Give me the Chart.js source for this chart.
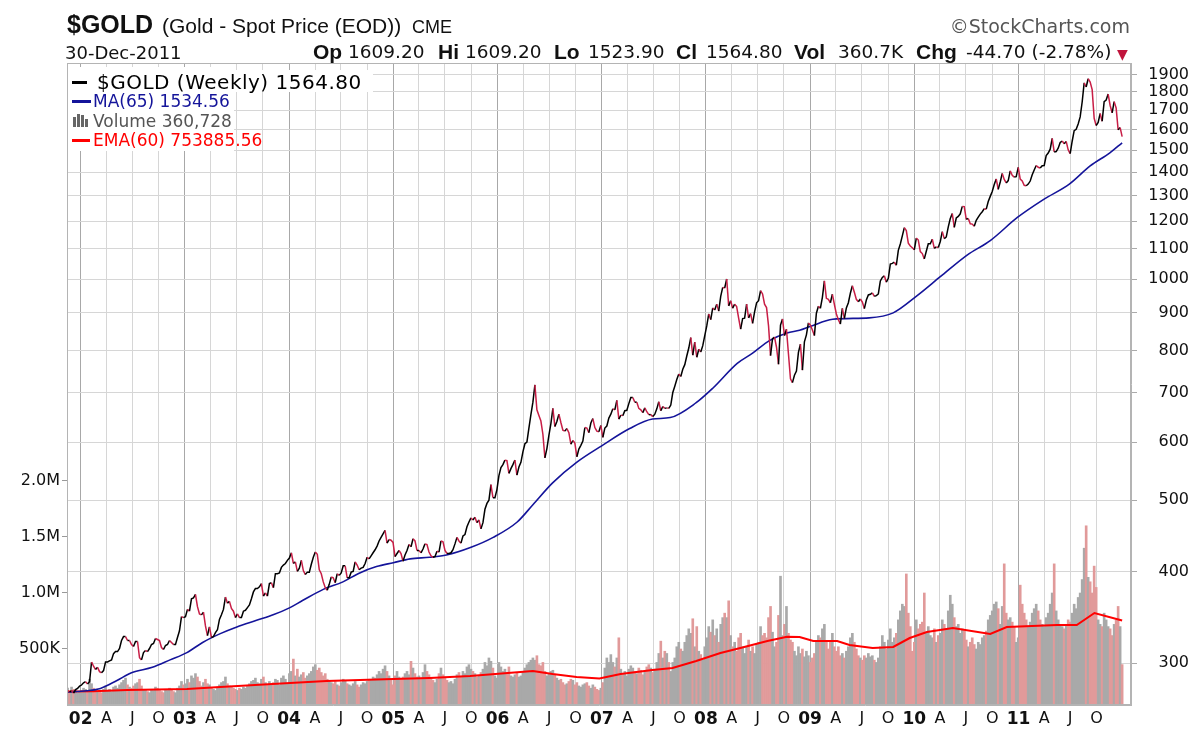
<!DOCTYPE html>
<html>
<head>
<meta charset="utf-8">
<title>$GOLD semanal</title>
<script src="https://cdn.jsdelivr.net/npm/chart.js@4.4.1/dist/chart.umd.min.js"></script>
<style>
  html, body { margin: 0; padding: 0; background: #fff; }
  #quadro { position: relative; width: 1189px; height: 731px; overflow: hidden; }
  #graficoOuro { position: absolute; left: 0; top: 0; }
  .t { position: absolute; white-space: pre; line-height: 1; color: #111; font-family: "DejaVu Sans", sans-serif; }
  .arial { font-family: "Liberation Sans", Arial, sans-serif; }
  .b { font-weight: bold; }
  .ico { position: absolute; }
</style>
</head>
<body>
<div id="quadro">
  <canvas id="graficoOuro" width="1189" height="731"></canvas>

  <!-- cabeçalho -->
  <div class="t arial b" style="left:67px;top:12px;font-size:25px">$GOLD</div>
  <div class="t arial" style="left:162px;top:15px;font-size:21px">(Gold - Spot Price (EOD))</div>
  <div class="t arial" style="left:412px;top:18px;font-size:18px">CME</div>
  <div class="t" style="right:59px;top:17px;font-size:19px;color:#555">©StockCharts.com</div>

  <div class="t" style="left:65px;top:44px;font-size:18px">30-Dec-2011</div>
  <div class="t arial b" style="left:313px;top:41px;font-size:21px">Op</div>
  <div class="t" style="left:348px;top:43px;font-size:18.5px">1609.20</div>
  <div class="t arial b" style="left:438px;top:41px;font-size:21px">Hi</div>
  <div class="t" style="left:465px;top:43px;font-size:18.5px">1609.20</div>
  <div class="t arial b" style="left:554px;top:41px;font-size:21px">Lo</div>
  <div class="t" style="left:588px;top:43px;font-size:18.5px">1523.90</div>
  <div class="t arial b" style="left:676px;top:41px;font-size:21px">Cl</div>
  <div class="t" style="left:706px;top:43px;font-size:18.5px">1564.80</div>
  <div class="t arial b" style="left:794px;top:41px;font-size:21px">Vol</div>
  <div class="t" style="left:838px;top:43px;font-size:18.5px">360.7K</div>
  <div class="t arial b" style="left:916px;top:41px;font-size:21px">Chg</div>
  <div class="t" style="left:966px;top:43px;font-size:18.5px">-44.70 (-2.78%)</div>
  <div class="t" style="left:1117px;top:47px;font-size:14px;color:#c0143c">▼</div>

  <!-- legenda -->
  <div class="ico" style="left:68px;top:67px;width:166px;height:84px;background:#fff"></div>
  <div class="ico" style="left:68px;top:70px;width:305px;height:22px;background:#fff"></div>
  <div class="ico" style="left:72px;top:81px;width:15px;height:3px;background:#000"></div>
  <div class="t" style="left:97px;top:72px;font-size:20px;letter-spacing:0.5px;color:#000">$GOLD (Weekly) 1564.80</div>
  <div class="ico" style="left:72px;top:100px;width:19px;height:3px;background:#14149a"></div>
  <div class="t" style="left:93px;top:93px;font-size:17px;color:#14149a">MA(65) 1534.56</div>
  <div class="ico" style="left:73px;top:117px;width:3px;height:10px;background:#666"></div>
  <div class="ico" style="left:77px;top:114px;width:3px;height:13px;background:#666"></div>
  <div class="ico" style="left:81px;top:115px;width:3px;height:12px;background:#666"></div>
  <div class="ico" style="left:85px;top:119px;width:3px;height:8px;background:#666"></div>
  <div class="t" style="left:93px;top:113px;font-size:17px;color:#555">Volume 360,728</div>
  <div class="ico" style="left:72px;top:139px;width:18px;height:3px;background:#ff0000"></div>
  <div class="t" style="left:93px;top:132px;font-size:17px;color:#ff0000">EMA(60) 753885.56</div>
</div>

<script>
// Fechamentos semanais (sexta-feira), começando em 16-Nov-2001
const inicioSemanas = '2001-11-16';
const fechamentos = [
  275, 274, 275, 273, 276, 277, 279,
  280, 282, 283, 281, 283, 301, 297, 294, 296, 292, 291, 293, 301, 301, 302, 303, 309, 311, 311, 314, 322, 326, 326, 322, 322, 318, 316, 321, 321, 305, 303, 310, 312, 311, 314, 318, 319, 324, 323, 322, 315, 313, 317, 318, 322, 320, 318, 318, 325, 332, 347, 346,
  347, 355, 353, 367, 368, 372, 358, 350, 349, 352, 337, 327, 336, 325, 326, 330, 333, 344, 349, 355, 369, 362, 364, 356, 353, 346, 350, 346, 346, 353, 354, 357, 360, 367, 375, 379, 379, 381, 385, 370, 374, 370, 385, 386, 380, 397, 397, 398, 405, 408, 410, 414,
  417, 424, 410, 412, 400, 404, 414, 401, 396, 399, 399, 409, 418, 425, 422, 402, 397, 387, 380, 377, 384, 393, 392, 386, 397, 395, 398, 407, 407, 392, 392, 399, 400, 412, 408, 402, 404, 405, 410, 418, 416, 420, 424, 428, 433, 440, 445, 450, 455, 437, 442, 441, 438,
  419, 423, 427, 423, 413, 421, 427, 435, 432, 443, 440, 427, 427, 424, 429, 436, 435, 425, 420, 418, 419, 426, 425, 440, 439, 427, 423, 423, 424, 428, 436, 445, 440, 437, 447, 449, 460, 467, 473, 470, 474, 466, 470, 457, 466, 486, 495, 500, 525, 504, 504, 517,
  540, 554, 559, 567, 566, 544, 552, 559, 567, 541, 555, 563, 582, 597, 600, 627, 654, 680, 718, 664, 652, 641, 615, 571, 588, 613, 636, 667, 630, 640, 655, 638, 623, 621, 626, 618, 596, 603, 598, 573, 587, 594, 602, 628, 627, 618, 637, 646, 628, 621, 620, 632,
  609, 627, 631, 647, 655, 666, 664, 684, 645, 653, 652, 662, 663, 677, 690, 690, 680, 680, 667, 664, 658, 668, 660, 654, 654, 650, 655, 666, 681, 662, 671, 667, 668, 667, 674, 701, 715, 730, 743, 737, 754, 765, 786, 806, 833, 788, 821, 783, 803, 796, 812, 838,
  864, 897, 881, 914, 908, 925, 905, 948, 975, 973, 1001, 920, 935, 913, 925, 918, 885, 855, 884, 885, 925, 886, 898, 871, 903, 929, 935, 965, 955, 925, 915, 864, 787, 830, 834, 808, 766, 866, 883, 838, 855, 791, 732, 723, 740, 750, 795, 816, 752, 822, 840, 872,
  866, 853, 838, 899, 919, 913, 945, 995, 942, 939, 929, 954, 924, 897, 881, 869, 913, 884, 914, 929, 957, 980, 960, 939, 932, 940, 931, 912, 937, 952, 954, 958, 948, 950, 955, 995, 1006, 1011, 991, 1003, 1049, 1051, 1055, 1045, 1095, 1117, 1146, 1176, 1165, 1120, 1110, 1104,
  1097, 1138, 1131, 1091, 1084, 1066, 1092, 1118, 1118, 1134, 1102, 1107, 1105, 1126, 1161, 1136, 1142, 1179, 1210, 1229, 1177, 1212, 1218, 1228, 1257, 1256, 1207, 1210, 1190, 1189, 1181, 1203, 1215, 1227, 1236, 1248, 1246, 1276, 1297, 1317, 1346, 1370, 1326, 1357, 1394, 1368, 1353, 1363, 1405, 1386, 1378, 1380, 1421,
  1369, 1361, 1343, 1341, 1348, 1361, 1388, 1409, 1429, 1421, 1418, 1428, 1429, 1474, 1486, 1504, 1556, 1491, 1493, 1509, 1536, 1543, 1530, 1541, 1501, 1483, 1542, 1594, 1601, 1628, 1664, 1744, 1852, 1828, 1876, 1856, 1813, 1657, 1620, 1636, 1682, 1642, 1746, 1755, 1788, 1725, 1686, 1746, 1712, 1598, 1609.5, 1564.8
];

// Volume semanal em milhares
const volumesMil = [
  150, 120, 160, 140, 130, 110, 120,
  130, 150, 140, 120, 230, 190, 150, 140, 120, 130, 110, 140, 170, 130, 140, 120, 160, 170, 150, 180, 200, 220, 240, 180, 160, 150, 170, 190, 200, 230, 170, 140, 130, 120, 110, 140, 130, 160, 150, 130, 120, 110, 140, 130, 150, 140, 120, 110, 150, 170, 210, 180,
  190, 230, 200, 260, 240, 280, 250, 210, 170, 200, 230, 190, 180, 150, 140, 130, 160, 180, 200, 210, 250, 190, 170, 160, 150, 140, 130, 150, 140, 160, 150, 170, 190, 210, 220, 240, 200, 190, 230, 250, 200, 180, 210, 190, 200, 230, 220, 180, 240, 260, 230, 190,
  280, 300, 410, 260, 320, 250, 270, 290, 240, 260, 280, 300, 340, 360, 310, 330, 290, 260, 280, 230, 210, 200, 190, 210, 180, 170, 200, 230, 220, 190, 180, 170, 190, 210, 180, 160, 180, 200, 190, 210, 230, 220, 250, 240, 270, 300, 280, 320, 350, 300, 260, 220, 180,
  260, 300, 250, 230, 250, 280, 300, 270, 390, 330, 280, 250, 260, 240, 290, 360, 300, 270, 240, 220, 200, 230, 280, 330, 270, 250, 220, 200, 210, 190, 230, 270, 290, 250, 300, 280, 340, 360, 320, 300, 280, 250, 260, 290, 320, 380, 350, 420, 390, 330, 260, 240,
  380, 340, 300, 320, 290, 340, 260, 250, 270, 290, 250, 260, 300, 330, 360, 380, 400, 420, 400, 440, 360, 350, 380, 300, 260, 280, 300, 310, 270, 240, 220, 230, 200, 180, 190, 210, 230, 220, 180, 200, 170, 160, 180, 190, 200, 170, 150, 180, 160, 140, 130, 150,
  200, 330, 420, 380, 450, 380, 340, 420, 600, 320, 280, 300, 260, 320, 350, 330, 300, 280, 330, 310, 270, 300, 340, 360, 330, 290, 320, 380, 460, 570, 420, 480, 460, 380, 300, 380, 420, 520, 560, 500, 480, 560, 620, 680, 640, 770, 520, 700, 480, 450, 400, 520,
  600, 700, 650, 760, 620, 680, 560, 720, 780, 820, 780, 930, 620, 520, 560, 480, 600, 640, 520, 460, 520, 580, 480, 520, 460, 540, 560, 700, 620, 640, 600, 780, 880, 650, 520, 560, 800, 1150, 620, 720, 880, 640, 580, 560, 480, 440, 520, 460, 500, 430, 480, 440,
  380, 420, 460, 560, 620, 600, 680, 720, 560, 500, 560, 640, 520, 480, 520, 440, 460, 420, 480, 520, 600, 640, 560, 500, 440, 420, 400, 440, 420, 460, 430, 440, 400, 380, 420, 520, 620, 560, 500, 580, 680, 560, 600, 640, 760, 840, 900, 880, 1170, 820, 700, 480,
  560, 760, 680, 720, 740, 1000, 640, 700, 620, 600, 680, 560, 620, 640, 760, 720, 680, 840, 980, 900, 780, 700, 720, 640, 680, 660, 580, 520, 560, 600, 540, 500, 560, 540, 600, 620, 660, 760, 800, 840, 900, 920, 860, 720, 880, 1260, 820, 760, 780, 740, 700, 560, 600,
  1070, 900, 820, 760, 700, 740, 820, 860, 900, 840, 760, 720, 700, 780, 820, 900, 1000, 1260, 840, 760, 720, 700, 680, 720, 760, 740, 820, 900, 860, 960, 1000, 1120, 1400, 1600, 1140, 1100, 1000, 1240, 1050, 760, 720, 700, 820, 760, 700, 680, 620, 720, 760, 880, 700, 360.728
];

// MA(65)
const mediaDatas = ['2001-11-16', '2002-01-22', '2002-03-11', '2002-05-08', '2002-06-28', '2002-09-09', '2002-11-10', '2003-01-08', '2003-03-04', '2003-05-05', '2003-07-02', '2003-09-09', '2003-11-06', '2004-01-04', '2004-02-17', '2004-04-30', '2004-07-08', '2004-09-05', '2004-11-03', '2005-01-01', '2005-03-01', '2005-05-08', '2005-07-06', '2005-09-28', '2005-12-17', '2006-03-11', '2006-05-05', '2006-07-13', '2006-10-05', '2007-01-01', '2007-04-09', '2007-06-28', '2007-08-29', '2007-11-28', '2008-01-26', '2008-04-20', '2008-06-13', '2008-08-11', '2008-10-12', '2008-11-25', '2009-01-01', '2009-03-21', '2009-07-27', '2009-10-19', '2010-01-11', '2010-04-02', '2010-07-05', '2010-09-24', '2010-12-28', '2011-03-29', '2011-06-28', '2011-09-09', '2011-11-17', '2011-12-30'];
const mediaValores = [274, 275, 277, 284, 291, 296, 303, 310, 320, 329, 336, 343, 349, 357, 365, 378, 387, 398, 406, 411, 416, 418, 421, 431, 445, 467, 493, 528, 563, 593, 626, 645, 648, 679, 711, 768, 793, 825, 845, 852, 862, 882, 886, 900, 950, 1008, 1079, 1129, 1214, 1284, 1348, 1427, 1487, 1534.56];

// EMA(60) do volume, em milhares
const emaDatas = ['2001-11-16', '2002-02-14', '2002-06-13', '2003-01-08', '2003-05-05', '2004-01-04', '2004-05-11', '2005-01-01', '2005-05-08', '2005-09-27', '2006-05-05', '2006-07-13', '2006-10-05', '2006-12-24', '2007-03-08', '2007-06-28', '2007-09-06', '2007-11-28', '2008-02-21', '2008-05-01', '2008-08-04', '2008-10-12', '2008-11-25', '2009-01-12', '2009-04-06', '2009-05-19', '2009-08-08', '2009-10-19', '2009-12-16', '2010-02-14', '2010-05-16', '2010-09-24', '2010-11-21', '2011-05-16', '2011-07-24', '2011-09-24', '2011-12-30'];
const emaValores = [120, 122, 134, 143, 161, 196, 214, 232, 241, 259, 304, 277, 250, 236, 277, 312, 330, 393, 464, 509, 571, 610, 607, 571, 571, 536, 509, 518, 598, 652, 688, 634, 696, 714, 714, 821, 753.886];

// Eixos
const anosEixo = [2002, 2003, 2004, 2005, 2006, 2007, 2008, 2009, 2010, 2011];
const letrasTrimestre = ['', 'A', 'J', 'O'];
const ticksPreco = [300, 400, 500, 600, 700, 800, 900, 1000, 1100, 1200, 1300, 1400, 1500, 1600, 1700, 1800, 1900];
const ticksVolume = [500000, 1000000, 1500000, 2000000];

function anoDecimal(ms) {
  const ano = new Date(ms).getUTCFullYear();
  const ini = Date.UTC(ano, 0, 1);
  const fim = Date.UTC(ano + 1, 0, 1);
  return ano + (ms - ini) / (fim - ini);
}
function dataParaAno(s) {
  const [a, m, d] = s.split('-').map(Number);
  return anoDecimal(Date.UTC(a, m - 1, d));
}

const [a0, m0, d0] = inicioSemanas.split('-').map(Number);
const semanas = fechamentos.map((c, i) => anoDecimal(Date.UTC(a0, m0 - 1, d0) + i * 7 * 864e5));

const pontosPreco = fechamentos.map((c, i) => ({ x: semanas[i], y: c }));
const pontosVolume = volumesMil.map((v, i) => ({ x: semanas[i], y: v * 1000 }));
const coresVolume = volumesMil.map((v, i) => (i > 0 && fechamentos[i] < fechamentos[i - 1]) ? '#e19a9a' : '#a9a9a9');
const pontosMedia = mediaDatas.map((d, i) => ({ x: dataParaAno(d), y: mediaValores[i] }));
const pontosEma = emaDatas.map((d, i) => ({ x: dataParaAno(d), y: emaValores[i] * 1000 }));

const ticksX = [];
const rotulosX = [];
anosEixo.forEach(a => {
  [0, 1, 2, 3].forEach(q => {
    ticksX.push(anoDecimal(Date.UTC(a, q * 3, 1)));
    rotulosX.push(q === 0 ? String(a).slice(2) : letrasTrimestre[q]);
  });
});
const ehAno = v => Math.abs(v - Math.round(v)) < 1e-9;

// moldura do gráfico
const moldura = {
  id: 'moldura',
  afterDraw(chart) {
    const { ctx, chartArea: ca } = chart;
    ctx.save();
    ctx.strokeStyle = '#b4b4b4';
    ctx.lineWidth = 1;
    ctx.strokeRect(ca.left + 0.5, ca.top + 0.5, ca.right - ca.left - 1, ca.bottom - ca.top - 1);
    ctx.restore();
  }
};

Chart.defaults.font.family = '"DejaVu Sans", sans-serif';
Chart.defaults.color = '#222';

const configOuro = {
  data: {
    datasets: [
      {
        type: 'line', label: '$GOLD', data: pontosPreco, yAxisID: 'yPreco', order: 1,
        borderColor: '#000', borderWidth: 1.5, pointRadius: 0,
        segment: { borderColor: c => c.p1.parsed.y < c.p0.parsed.y ? '#c81e46' : '#000' }
      },
      {
        type: 'line', label: 'MA(65)', data: pontosMedia, yAxisID: 'yPreco', order: 2,
        borderColor: '#14149a', borderWidth: 1.6, pointRadius: 0, cubicInterpolationMode: 'monotone'
      },
      {
        type: 'line', label: 'EMA(60)', data: pontosEma, yAxisID: 'yVol', order: 3,
        borderColor: '#ff0000', borderWidth: 2, pointRadius: 0
      },
      {
        type: 'bar', label: 'Volume', data: pontosVolume, yAxisID: 'yVol', order: 4,
        backgroundColor: coresVolume, borderWidth: 0,
        barPercentage: 1, categoryPercentage: 1, grouped: false
      }
    ]
  },
  options: {
    responsive: false,
    animation: false,
    devicePixelRatio: 1,
    events: [],
    layout: { padding: { top: 63, left: 0, right: 0, bottom: 0 }, autoPadding: false },
    plugins: { legend: { display: false }, tooltip: { enabled: false } },
    scales: {
      x: {
        type: 'linear', position: 'bottom', min: 2001.8685, max: 2012.0796,
        offset: false,
        afterBuildTicks: s => { s.ticks = ticksX.map(v => ({ value: v })); },
        afterFit: s => { s.height = 26; s.paddingLeft = 0; s.paddingRight = 0; },
        ticks: {
          autoSkip: false, maxRotation: 0, padding: 4, color: '#111',
          callback: (v, i) => rotulosX[i],
          font: c => ({ size: c.tick && ehAno(c.tick.value) ? 17 : 16, weight: c.tick && ehAno(c.tick.value) ? 'bold' : 'normal' })
        },
        grid: { offset: false, drawTicks: false, color: c => (c.tick && ehAno(c.tick.value)) ? '#a8a8a8' : '#d6d6d6' },
        border: { color: '#b4b4b4' }
      },
      yPreco: {
        type: 'logarithmic', position: 'right', min: 263, max: 1971,
        afterBuildTicks: s => { s.ticks = ticksPreco.map(v => ({ value: v })); },
        afterFit: s => { s.width = 58; s.paddingTop = 0; s.paddingBottom = 0; },
        ticks: { callback: v => String(v), padding: 7, crossAlign: 'far', font: { size: 16 }, color: '#111' },
        grid: { color: '#d6d6d6', tickLength: 6, tickColor: '#aaa' },
        border: { color: '#b4b4b4' }
      },
      yVol: {
        type: 'linear', position: 'left', min: 0, max: 5732000,
        afterBuildTicks: s => { s.ticks = ticksVolume.map(v => ({ value: v })); },
        afterFit: s => { s.width = 67; s.paddingTop = 0; s.paddingBottom = 0; },
        ticks: {
          padding: 2, font: { size: 16 }, color: '#111',
          callback: v => v < 1000000 ? (v / 1000) + 'K' : (v / 1000000).toFixed(1) + 'M'
        },
        grid: { drawOnChartArea: false, tickLength: 5, tickColor: '#999' },
        border: { color: '#b4b4b4' }
      }
    }
  },
  plugins: [moldura]
};

const graficoOuro = new Chart(document.getElementById('graficoOuro'), configOuro);
</script>
</body>
</html>
